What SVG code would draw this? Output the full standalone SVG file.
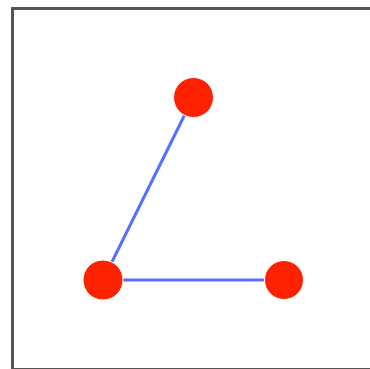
<svg xmlns="http://www.w3.org/2000/svg" width="370" height="369" viewBox="0 0 370 369">
<style>
.edge{stroke:#5570ff;stroke-width:3;fill:none}
.node{fill:#ff2200;stroke:#fff;stroke-width:1}
</style>
<rect x="0" y="0" width="370" height="369" fill="#fff"/>
<rect x="12.5" y="8.5" width="370" height="361" fill="#fff" stroke="#555" stroke-width="3"/>
<g id="connectors">
<line class="edge" x1="193" y1="98" x2="103" y2="280"/>
<line class="edge" x1="103" y1="280" x2="284" y2="280"/>
</g>
<g id="n1"><circle class="node" cx="193.5" cy="97.5" r="20"/></g>
<g id="n2"><circle class="node" cx="103" cy="280" r="20"/></g>
<g id="n3"><circle class="node" cx="284" cy="280" r="19.5"/></g>
</svg>
